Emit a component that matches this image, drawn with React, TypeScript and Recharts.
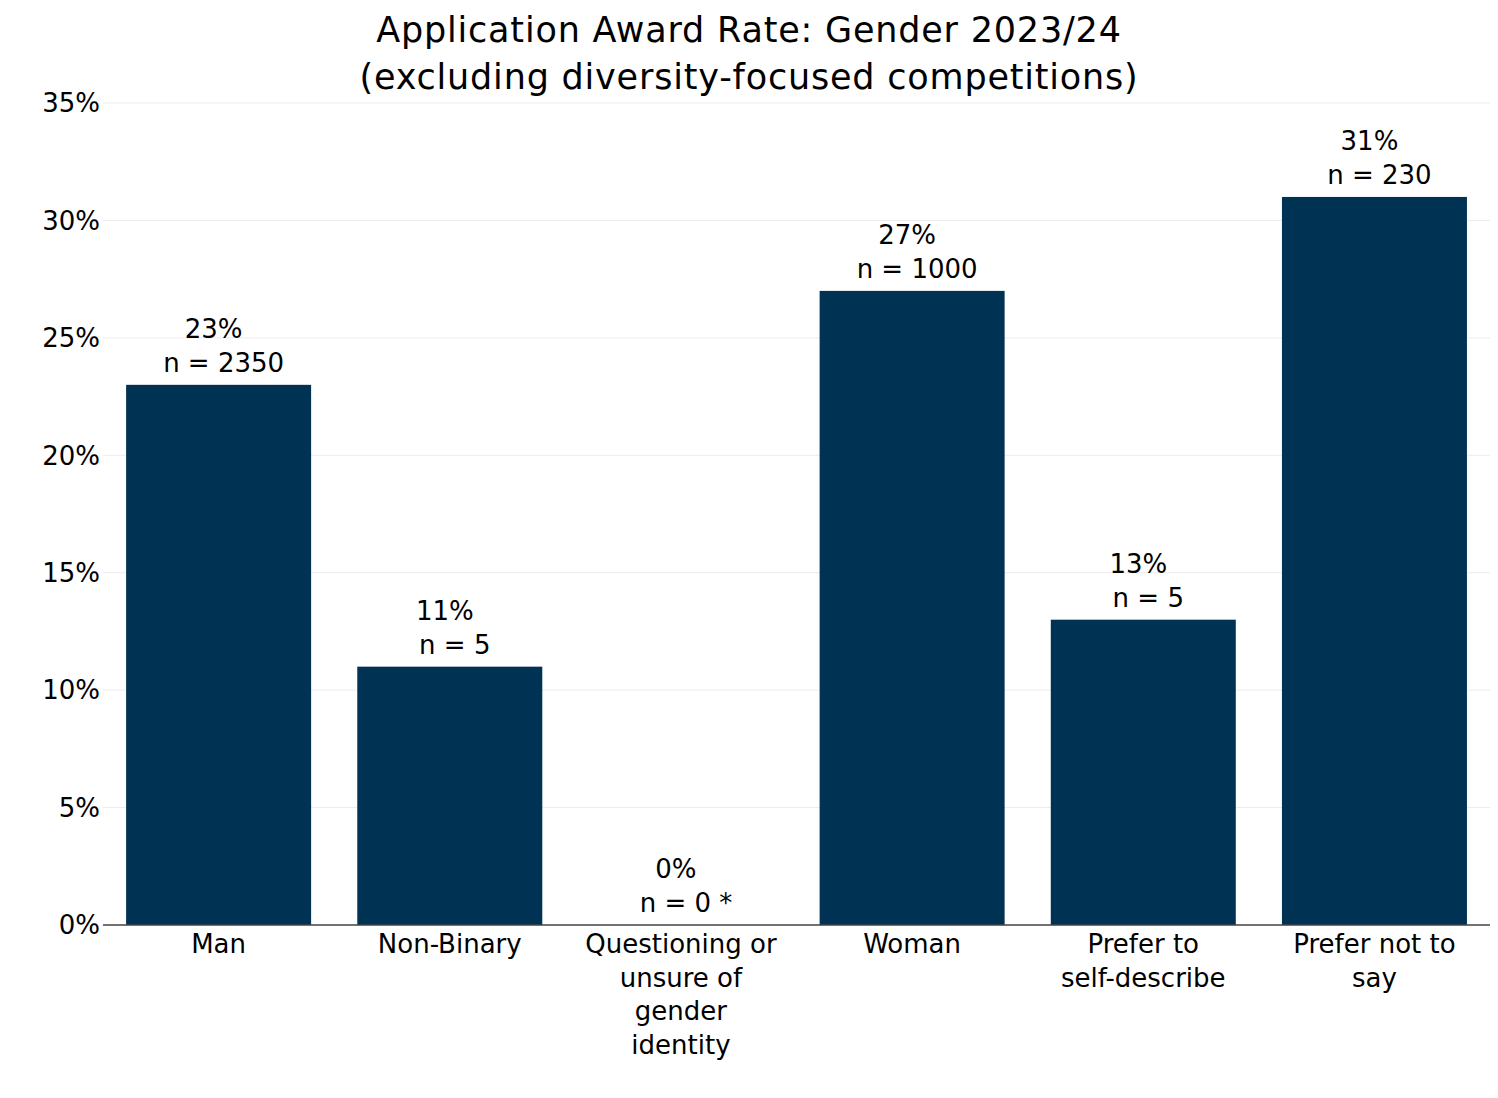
import React from "react";
import { BarChart, Bar, XAxis, YAxis, CartesianGrid } from "recharts";

const categories = [
  "Man",
  "Non-Binary",
  "Questioning or unsure of gender identity",
  "Woman",
  "Prefer to self-describe",
  "Prefer not to say",
];
const tickLines = [
  ["Man"],
  ["Non-Binary"],
  ["Questioning or", "unsure of", "gender", "identity"],
  ["Woman"],
  ["Prefer to", "self-describe"],
  ["Prefer not to", "say"],
];
const awardRates = [23, 11, 0, 27, 13, 31];
const counts = [2350, 5, 0, 1000, 5, 230];
const countNotes = ["", "", " *", "", "", ""];
const yTicks = [0, 5, 10, 15, 20, 25, 30, 35];

const data = categories.map((c, i) => ({
  category: c,
  rate: awardRates[i],
  count: counts[i],
  note: countNotes[i],
}));

const FONT = "'DejaVu Sans', Verdana, sans-serif";
const BAR = "#003253";
const FS = 26;

function CategoryTick(props: any) {
  const { x, y, payload } = props;
  const lines = tickLines[payload.index] || [payload.value];
  return (
    <g>
      {lines.map((l: string, i: number) => (
        <text
          key={i}
          x={x}
          y={y + 28 + i * 33.5}
          textAnchor="middle"
          fill="#000"
          fontSize={FS}
          fontFamily={FONT}
        >
          {l}
        </text>
      ))}
    </g>
  );
}

// draws the bar and its two-line label; zero bars get only the label
function BarWithLabel(props: any) {
  const { x, y, width, height, payload } = props;
  const cx = x + width / 2;
  const hasBar = payload.rate > 0;
  const top = hasBar ? y : y + height;
  return (
    <g>
      {hasBar && <rect x={x} y={y} width={width} height={height} fill={BAR} />}
      <g fontFamily={FONT} fontSize={FS} fill="#000">
        <text x={cx - 5} y={top - 47} textAnchor="middle">
          {`${payload.rate}%`}
        </text>
        <text x={cx + 5} y={top - 13} textAnchor="middle">
          {`n = ${payload.count}${payload.note}`}
        </text>
      </g>
    </g>
  );
}

export default function App() {
  return (
    <div
      style={{
        position: "absolute",
        left: 0,
        top: 0,
        width: 1498,
        height: 1098,
        background: "#fff",
        fontFamily: FONT,
      }}
    >
      <div
        style={{
          position: "absolute",
          left: 0,
          top: 7,
          width: 1498,
          textAlign: "center",
          fontSize: 35,
          letterSpacing: 0.8,
          lineHeight: "47px",
          color: "#000",
          zIndex: 2,
        }}
      >
        Application Award Rate: Gender 2023/24
        <br />
        (excluding diversity-focused competitions)
      </div>
      <BarChart
        width={1498}
        height={1098}
        data={data}
        margin={{ top: 103, right: 8, bottom: 0, left: 0 }}
        barCategoryGap="10%"
      >
        <CartesianGrid vertical={false} stroke="#ebebeb" strokeWidth={1} />
        <XAxis
          dataKey="category"
          interval={0}
          tickLine={false}
          tickSize={0}
          tickMargin={0}
          axisLine={{ stroke: "#444", strokeWidth: 1.5 }}
          tick={<CategoryTick />}
          height={173}
        />
        <YAxis
          width={103}
          domain={[0, 35]}
          ticks={yTicks}
          axisLine={false}
          tickLine={false}
          tickSize={0}
          tickMargin={3}
          tickFormatter={(v: number) => `${v}%`}
          tick={{ fill: "#000", fontSize: FS, fontFamily: FONT }}
        />
        <Bar
          dataKey="rate"
          fill={BAR}
          minPointSize={1}
          shape={<BarWithLabel />}
          isAnimationActive={false}
        />
      </BarChart>
    </div>
  );
}
